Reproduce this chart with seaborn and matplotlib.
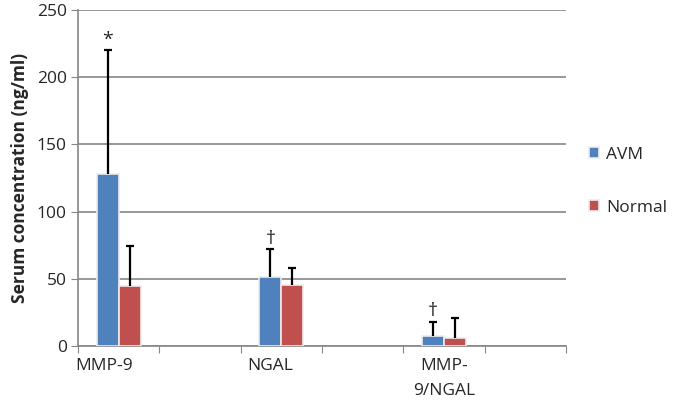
import pandas as pd
import matplotlib.pyplot as plt
import seaborn as sns

# values
markers = ["MMP-9", "NGAL", "MMP-9/NGAL"]
groups = ["AVM", "Normal"]
avm_mean = [128, 51.5, 7.7]
avm_sd = [92, 20.5, 10.5]
normal_mean = [44.5, 45, 6.2]
normal_sd = [30, 13, 14.5]
marks = ["*", "\u2020", "\u2020"]

# Excel-style axis has empty categories between the groups
order = ["MMP-9", "gap1", "NGAL", "gap2", "MMP-9/NGAL", "gap3"]

df = pd.DataFrame({
    "marker": markers * 2,
    "group": ["AVM"] * 3 + ["Normal"] * 3,
    "value": avm_mean + normal_mean,
    "sd": avm_sd + normal_sd,
})

sns.set_style("white")
plt.rcParams["font.family"] = ["Open Sans", "DejaVu Sans"]

fig = plt.figure(figsize=(6.75, 4.09), dpi=100)
ax = fig.add_axes([0.1156, 0.154, 0.723, 0.822])

palette = {"AVM": "#4F81BD", "Normal": "#C0504D"}
sns.barplot(data=df, x="marker", y="value", hue="group", order=order,
            hue_order=groups, palette=palette, width=0.54, errorbar=None,
            saturation=1, edgecolor="#ececec", linewidth=1.2, ax=ax, zorder=3)

# one-sided SD bars (upper whisker and cap only)
cap = 0.05
for cont, g in zip(ax.containers, groups):
    sub = df[df["group"] == g].set_index("marker").loc[markers]
    xs = [b.get_x() + b.get_width() / 2 for b in cont if b.get_height() > 0]
    tops = sub["value"] + sub["sd"]
    ax.vlines(xs, sub["value"], tops, color="black", linewidth=1.6, zorder=4)
    ax.hlines(tops, [x - cap for x in xs], [x + cap for x in xs],
              color="black", linewidth=1.6, zorder=4)
    if g == "AVM":
        for x, t, m in zip(xs, tops, marks):
            ax.text(x, t + 1, m, ha="center", va="bottom", fontsize=14)

ax.set_xlim(-0.5, 5.5)
ax.set_ylim(0, 250)
ax.set_yticks(range(0, 251, 50))
ax.tick_params(axis="y", labelsize=12.5, length=5, color="#868686", direction="out", left=True, pad=3)
ax.yaxis.grid(True, color="#868686", linewidth=1.2, zorder=0)
ax.set_axisbelow(True)

# ticks on category boundaries, labels under the bar groups
ax.set_xticks([i - 0.5 for i in range(7)])
ax.set_xticklabels([])
ax.tick_params(axis="x", length=5, color="#868686", direction="out", bottom=True)
label_x = [-0.18, 1.86, 4.0]
for x, lab in zip(label_x, ["MMP-9", "NGAL", "MMP-\n9/NGAL"]):
    ax.text(x, -9, lab, ha="center", va="top", fontsize=12.5, linespacing=1.75)

for s in ["top", "right"]:
    ax.spines[s].set_visible(False)
for s in ["left", "bottom"]:
    ax.spines[s].set_color("#868686")
    ax.spines[s].set_linewidth(1.2)

ax.set_xlabel("")
ax.set_ylabel("Serum concentration (ng/ml)", fontsize=12.5, fontweight="bold", labelpad=6)

ax.legend(loc="center left", bbox_to_anchor=(1.015, 0.49), frameon=False,
          fontsize=12.5, handlelength=0.6, handleheight=0.6, labelspacing=2.1,
          handletextpad=0.4)

fig.savefig("out.png", dpi=100)
